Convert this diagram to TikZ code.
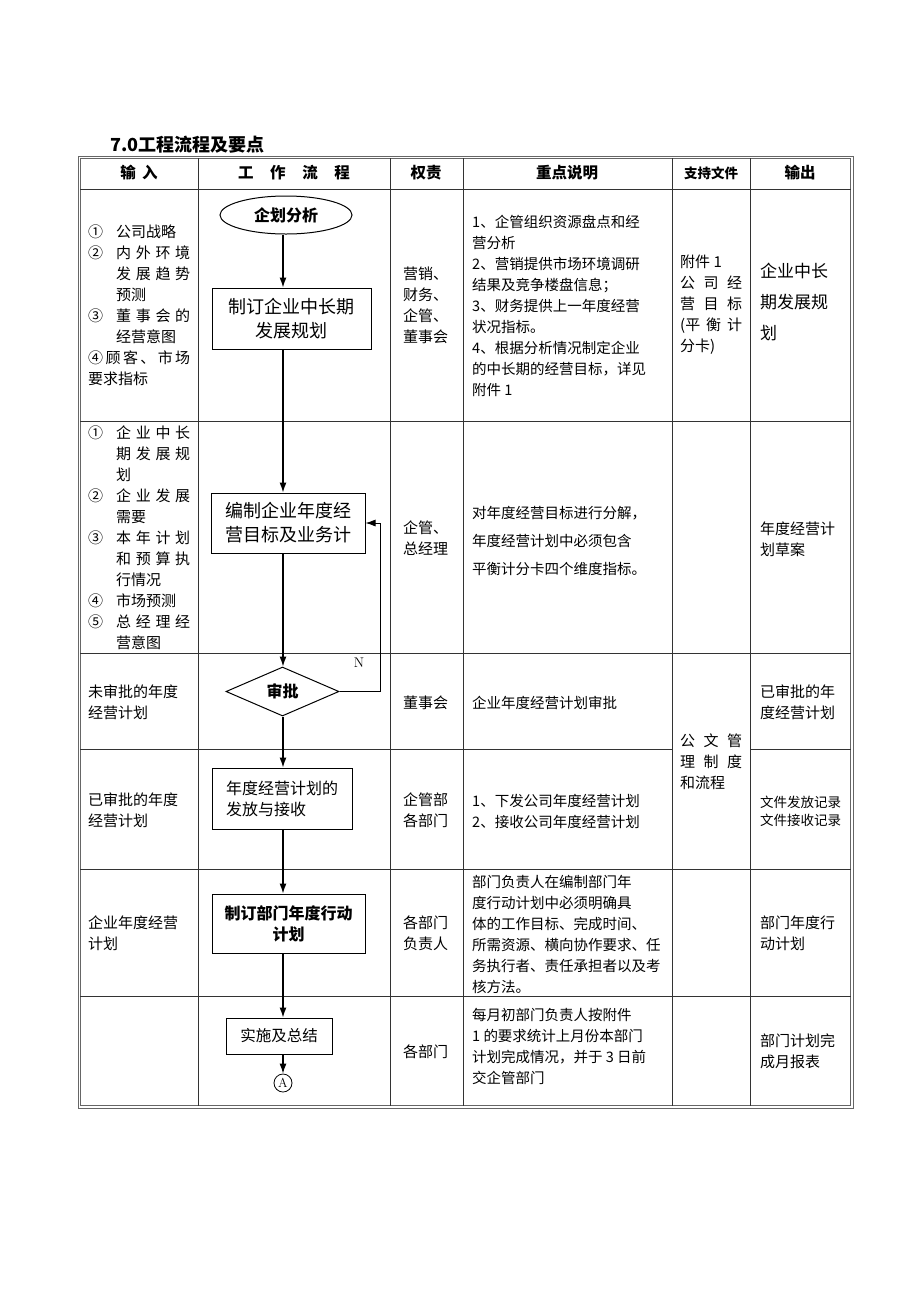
\documentclass[tikz,border=0pt]{standalone}
\usepackage{fontspec}
\usepackage{tikz}
\usetikzlibrary{shapes,arrows.meta}
\newfontfamily\cjk{Noto Sans CJK SC}
\newcommand\sprd[2][74pt]{\makebox[#1][s]{#2}}
\newcommand\cnum[1]{\makebox[28pt][l]{#1}}
\newcommand\indt{\hspace*{28pt}}
\tikzstyle{txt}=[font=\cjk\fontsize{15}{21}\selectfont,align=left,inner sep=0pt,anchor=west]
\tikzstyle{note}=[txt,font=\cjk\fontsize{14.5}{21}\selectfont]
\tikzstyle{big}=[txt,font=\cjk\fontsize{17}{31}\selectfont]
\tikzstyle{small}=[txt,font=\cjk\fontsize{13.5}{18}\selectfont]
\tikzstyle{head}=[font=\cjk\bfseries\fontsize{15.5}{18}\selectfont,inner sep=0pt]
\tikzstyle{grid}=[draw=black!80,line width=0.7pt]
\tikzstyle{tframe}=[draw=black!60,line width=0.8pt]
\tikzstyle{box}=[draw,line width=1pt,inner sep=0pt,align=center,font=\cjk\fontsize{18}{24}\selectfont]
\tikzstyle{ell}=[draw,ellipse,line width=1pt,inner sep=0pt,minimum width=132,minimum height=38,font=\cjk\bfseries\fontsize{16}{18}\selectfont]
\tikzstyle{dia}=[draw,diamond,line width=1pt,inner sep=0pt,minimum width=113,minimum height=49,font=\cjk\bfseries\fontsize{16}{18}\selectfont]
\tikzstyle{flow}=[-{Latex[length=10pt,width=7pt]},line width=1.2pt]
\tikzstyle{back}=[-{Latex[length=10pt,width=7pt]},line width=0.9pt]

\begin{document}
\begin{tikzpicture}[x=1pt,y=-1pt]
  \useasboundingbox (0,0) rectangle (920,1302);
  \node[head,anchor=west,font=\cjk\bfseries\fontsize{18}{20}\selectfont] (title) at (110,145) {7.0工程流程及要点};

  % table frame and rules
  \draw[tframe] (78,156) rectangle (853,1108);
  \draw[tframe] (80.5,158.5) rectangle (850.5,1105.5);
  \draw[grid] (80,189) -- (851,189);
  \draw[grid] (80,421) -- (851,421);
  \draw[grid] (80,653) -- (851,653);
  \draw[grid] (80,749) -- (672,749);
  \draw[grid] (750,749) -- (851,749);
  \draw[grid] (80,869) -- (851,869);
  \draw[grid] (80,996) -- (851,996);
  \draw[grid] (198,158) -- (198,1106);
  \draw[grid] (390,158) -- (390,1106);
  \draw[grid] (463,158) -- (463,1106);
  \draw[grid] (672,158) -- (672,1106);
  \draw[grid] (750,158) -- (750,1106);

  % header
  \node[head] (hin) at (139,173) {输\hspace{0.4em}入};
  \node[head] (hflow) at (294,173) {\sprd[112pt]{工\hfill 作\hfill 流\hfill 程}};
  \node[head] (hduty) at (426,173) {权责};
  \node[head] (hnote) at (567,173) {重点说明};
  \node[head,font=\cjk\bfseries\fontsize{13.5}{16}\selectfont] (hdoc) at (711,173) {支持文件};
  \node[head] (hout) at (800,173) {输出};

  % row 1
  \node[txt] (in1) at (88,305) {\cnum{①}公司战略\\\cnum{②}\sprd{内\hfill 外\hfill 环\hfill 境}\\\indt\sprd{发\hfill 展\hfill 趋\hfill 势}\\\indt 预测\\\cnum{③}\sprd{董\hfill 事\hfill 会\hfill 的}\\\indt 经营意图\\\sprd[102pt]{④\hfill 顾\hfill 客\hfill 、\hfill 市\hfill 场}\\要求指标};
  \node[txt] (duty1) at (403,305) {营销、\\财务、\\企管、\\董事会};
  \node[note] (note1) at (472,306) {1、企管组织资源盘点和经\\营分析\\2、营销提供市场环境调研\\结果及竞争楼盘信息；\\3、财务提供上一年度经营\\状况指标。\\4、根据分析情况制定企业\\的中长期的经营目标，详见\\附件 1};
  \node[txt] (doc1) at (680,305) {附件 1\\\sprd[62pt]{公\hfill 司\hfill 经}\\\sprd[62pt]{营\hfill 目\hfill 标}\\\sprd[62pt]{(平\hfill 衡\hfill 计}\\分卡)};
  \node[big] (out1) at (760,302) {企业中长\\期发展规\\划};

  % row 2
  \node[txt] (in2) at (88,538) {\cnum{①}\sprd{企\hfill 业\hfill 中\hfill 长}\\\indt\sprd{期\hfill 发\hfill 展\hfill 规}\\\indt 划\\\cnum{②}\sprd{企\hfill 业\hfill 发\hfill 展}\\\indt 需要\\\cnum{③}\sprd{本\hfill 年\hfill 计\hfill 划}\\\indt\sprd{和\hfill 预\hfill 算\hfill 执}\\\indt 行情况\\\cnum{④}市场预测\\\cnum{⑤}\sprd{总\hfill 经\hfill 理\hfill 经}\\\indt 营意图};
  \node[txt] (duty2) at (403,538) {企管、\\总经理};
  \node[note,font=\cjk\fontsize{14.5}{28}\selectfont] (note2) at (472,541) {对年度经营目标进行分解，\\年度经营计划中必须包含\\平衡计分卡四个维度指标。};
  \node[txt] (out2) at (760,539) {年度经营计\\划草案};

  % row 3
  \node[txt] (in3) at (88,702) {未审批的年度\\经营计划};
  \node[txt] (duty3) at (403,703) {董事会};
  \node[note] (note3) at (472,703) {企业年度经营计划审批};
  \node[txt] (doc3) at (680,762) {\sprd[62pt]{公\hfill 文\hfill 管}\\\sprd[62pt]{理\hfill 制\hfill 度}\\和流程};
  \node[txt] (out3) at (760,702) {已审批的年\\度经营计划};

  % row 4
  \node[txt] (in4) at (88,810) {已审批的年度\\经营计划};
  \node[txt] (duty4) at (403,810) {企管部\\各部门};
  \node[note] (note4) at (472,811) {1、下发公司年度经营计划\\2、接收公司年度经营计划};
  \node[small] (out4) at (760,811) {文件发放记录\\文件接收记录};

  % row 5
  \node[txt] (in5) at (88,933) {企业年度经营\\计划};
  \node[txt] (duty5) at (403,933) {各部门\\负责人};
  \node[note] (note5) at (472,934) {部门负责人在编制部门年\\度行动计划中必须明确具\\体的工作目标、完成时间、\\所需资源、横向协作要求、任\\务执行者、责任承担者以及考\\核方法。};
  \node[txt] (out5) at (760,933) {部门年度行\\动计划};

  % row 6
  \node[txt] (duty6) at (403,1052) {各部门};
  \node[note] (note6) at (472,1046) {每月初部门负责人按附件\\1 的要求统计上月份本部门\\计划完成情况，并于 3 日前\\交企管部门};
  \node[txt] (out6) at (760,1051) {部门计划完\\成月报表};

  % flow
  \coordinate (ax) at (283,0);
  \coordinate (fbx) at (380,0);
  \node[ell] (qhfx) at (286,215) {企划分析};
  \node[box,minimum width=159,minimum height=61] (zdgh) at (291.5,318.5) {制订企业中长期\\发展规划};
  \node[box,minimum width=154,minimum height=60] (bzjh) at (288,523) {编制企业年度经\\营目标及业务计};
  \node[dia] (shp) at (282.5,691.5) {审批};
  \node[box,minimum width=140,minimum height=61,align=left,font=\cjk\fontsize{16}{21}\selectfont] (ffjs) at (282,798.5) {年度经营计划的\\发放与接收};
  \node[box,minimum width=153,minimum height=59,font=\cjk\bfseries\fontsize{16}{21}\selectfont] (bmjh) at (288.5,923.5) {制订部门年度行动\\计划};
  \node[box,minimum width=106,minimum height=36,font=\cjk\fontsize{15.5}{18}\selectfont] (sszj) at (279,1036) {实施及总结};
  \node[draw,circle,minimum size=18,inner sep=0pt,line width=0.8pt,font=\fontsize{13}{13}\selectfont] (ca) at (283,1083) {A};

  \draw[flow] (qhfx.south -| ax) -- (zdgh.north -| ax);
  \draw[flow] (zdgh.south -| ax) -- (bzjh.north -| ax);
  \draw[flow] (bzjh.south -| ax) -- (shp.north -| ax);
  \draw[flow] (shp.south -| ax) -- (ffjs.north -| ax);
  \draw[flow] (ffjs.south -| ax) -- (bmjh.north -| ax);
  \draw[flow] (bmjh.south -| ax) -- (sszj.north -| ax);
  \draw[flow] (sszj.south -| ax) -- (ca.north);
  \draw[back] (shp.east) -- (shp.east -| fbx) -- (bzjh.east -| fbx) -- (bzjh.east);
  \node[font=\fontsize{14}{14}\selectfont] (nlab) at (359,663) {N};
\end{tikzpicture}
\end{document}
